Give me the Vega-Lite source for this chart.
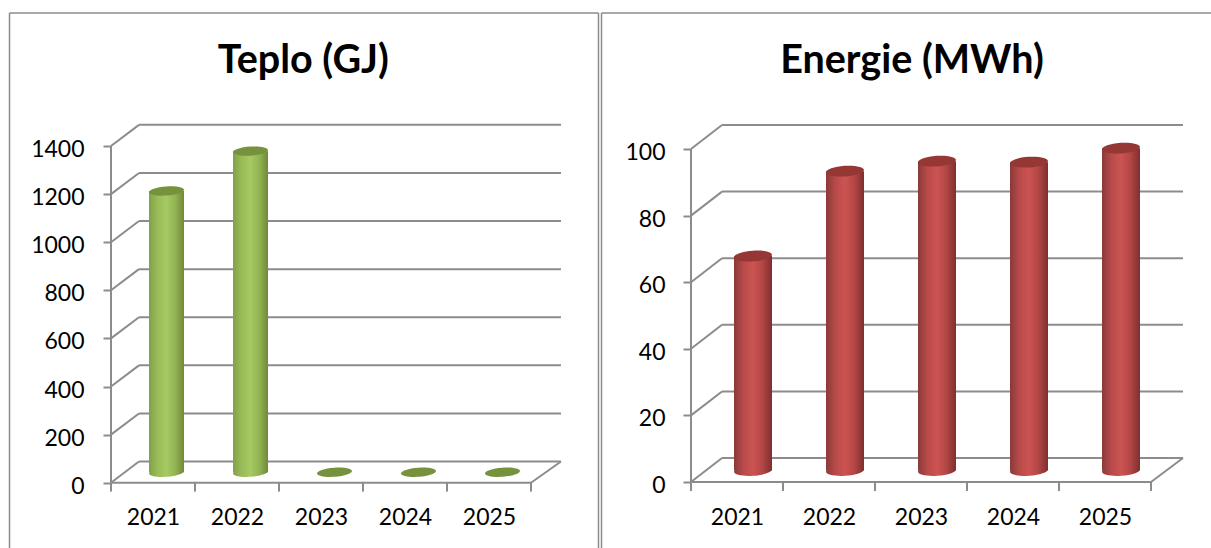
{"$schema":"https://vega.github.io/schema/vega-lite/v6.json","padding":{"left":8.5,"top":12,"right":0,"bottom":0},"spacing":1,"background":"white","config":{"view":{"stroke":null},"font":"Lato"},"datasets":{"heat":[{"year":2021,"value":1169},{"year":2022,"value":1335},{"year":2023,"value":0},{"year":2024,"value":0},{"year":2025,"value":0}],"power":[{"year":2021,"value":64.4},{"year":2022,"value":89.9},{"year":2023,"value":92.9},{"year":2024,"value":92.6},{"year":2025,"value":96.8}]},"hconcat":[{"width":589,"height":535,"layer":[{"data":{"values":[{"x":2019.2917,"x2":2026.3036,"y":1953,"y2":1953},{"x":2019.2917,"x2":2019.2917,"y":1953,"y2":-271.5},{"x":2026.3036,"x2":2026.3036,"y":1953,"y2":-271.5}]},"mark":{"type":"rule","color":"#8c8c8c","strokeWidth":1.5},"encoding":{"x":{"field":"x","type":"quantitative","scale":{"domain":[2019.2917,2026.3036],"nice":false,"zero":false,"padding":0},"axis":{"values":[2021,2022,2023,2024,2025],"format":"d","title":null,"grid":false,"domain":false,"ticks":false,"tickSize":0,"labelPadding":0,"labelBaseline":"alphabetic","labelFont":"Lato","labelFontSize":23,"labelColor":"black","offset":-24}},"x2":{"field":"x2"},"y":{"field":"y","type":"quantitative","scale":{"domain":[-271.5,1953],"nice":false,"zero":false,"padding":0},"axis":{"values":[0,200,400,600,800,1000,1200,1400],"format":"d","title":null,"grid":false,"domain":false,"tickSize":8,"tickWidth":2,"tickColor":"#8c8c8c","labelPadding":19,"labelFont":"Lato","labelFontSize":23,"labelColor":"black","labelOffset":3.5,"offset":-101.5}},"y2":{"field":"y2"}}},{"data":{"values":[{"label":"Teplo (GJ)","x":2022.79,"y":1703.6}]},"mark":{"type":"text","font":"Lato","fontSize":39.5,"fontWeight":700,"color":"black","align":"center","baseline":"alphabetic"},"encoding":{"text":{"field":"label"},"x":{"field":"x","type":"quantitative"},"y":{"field":"y","type":"quantitative"}}},{"data":{"values":[{"x":2020.833,"x2":2025.857,"y":88,"y2":88},{"x":2020.833,"x2":2025.857,"y":288,"y2":288},{"x":2020.833,"x2":2025.857,"y":488,"y2":488},{"x":2020.833,"x2":2025.857,"y":688,"y2":688},{"x":2020.833,"x2":2025.857,"y":888,"y2":888},{"x":2020.833,"x2":2025.857,"y":1088,"y2":1088},{"x":2020.833,"x2":2025.857,"y":1288,"y2":1288},{"x":2020.833,"x2":2025.857,"y":1488,"y2":1488},{"x":2020.5,"x2":2020.833,"y":0,"y2":88},{"x":2020.5,"x2":2020.833,"y":200,"y2":288},{"x":2020.5,"x2":2020.833,"y":400,"y2":488},{"x":2020.5,"x2":2020.833,"y":600,"y2":688},{"x":2020.5,"x2":2020.833,"y":800,"y2":888},{"x":2020.5,"x2":2020.833,"y":1000,"y2":1088},{"x":2020.5,"x2":2020.833,"y":1200,"y2":1288},{"x":2020.5,"x2":2020.833,"y":1400,"y2":1488},{"x":2020.5,"x2":2020.5,"y":0,"y2":1400},{"x":2020.5,"x2":2025.5,"y":0,"y2":0},{"x":2025.5,"x2":2025.857,"y":0,"y2":88},{"x":2020.5,"x2":2020.5,"y":0,"y2":-37},{"x":2021.5,"x2":2021.5,"y":0,"y2":-37},{"x":2022.5,"x2":2022.5,"y":0,"y2":-37},{"x":2023.5,"x2":2023.5,"y":0,"y2":-37},{"x":2024.5,"x2":2024.5,"y":0,"y2":-37},{"x":2025.5,"x2":2025.5,"y":0,"y2":-37}]},"mark":{"type":"rule","color":"#8c8c8c","strokeWidth":2},"encoding":{"x":{"field":"x","type":"quantitative"},"x2":{"field":"x2"},"y":{"field":"y","type":"quantitative"},"y2":{"field":"y2"}}},{"data":{"name":"heat"},"transform":[{"filter":"datum.value > 0"}],"mark":{"type":"point","filled":true,"opacity":1,"size":1225,"xOffset":13.5,"yOffset":-10.5,"shape":"M-0.998 0.07A1 0.26 -4 1 1 0.998 -0.07A1 0.26 -4 1 1 -0.998 0.07Z","fill":{"gradient":"linear","x1":0,"x2":1,"y1":0,"y2":0,"stops":[{"offset":0,"color":"#82a04a"},{"offset":0.25,"color":"#9abc58"},{"offset":0.5,"color":"#a6c963"},{"offset":0.75,"color":"#93b353"},{"offset":1,"color":"#6f8a38"}]}},"encoding":{"x":{"field":"year","type":"quantitative"},"y":{"datum":0,"type":"quantitative"}}},{"data":{"name":"heat"},"mark":{"type":"bar","size":35,"xOffset":13.5,"yOffset":-10.5,"y2Offset":-10.5,"fill":{"gradient":"linear","x1":0,"x2":1,"y1":0,"y2":0,"stops":[{"offset":0,"color":"#82a04a"},{"offset":0.25,"color":"#9abc58"},{"offset":0.5,"color":"#a6c963"},{"offset":0.75,"color":"#93b353"},{"offset":1,"color":"#6f8a38"}]}},"encoding":{"x":{"field":"year","type":"quantitative"},"y":{"field":"value","type":"quantitative"},"y2":{"datum":0}}},{"data":{"name":"heat"},"mark":{"type":"point","filled":true,"opacity":1,"size":1225,"xOffset":13.5,"yOffset":-10.5,"fill":"#76923c","shape":"M-0.998 0.07A1 0.26 -4 1 1 0.998 -0.07A1 0.26 -4 1 1 -0.998 0.07Z"},"encoding":{"x":{"field":"year","type":"quantitative"},"y":{"field":"value","type":"quantitative"}}}]},{"width":609.5,"height":535,"layer":[{"data":{"values":[{"x":2019.5272,"x2":2026.1522,"y":140.84,"y2":140.84},{"x":2019.5272,"x2":2019.5272,"y":140.84,"y2":-19.82}]},"mark":{"type":"rule","color":"#8c8c8c","strokeWidth":1.5},"encoding":{"x":{"field":"x","type":"quantitative","scale":{"domain":[2019.5272,2026.1522],"nice":false,"zero":false,"padding":0},"axis":{"values":[2021,2022,2023,2024,2025],"format":"d","title":null,"grid":false,"domain":false,"ticks":false,"tickSize":0,"labelPadding":0,"labelBaseline":"alphabetic","labelFont":"Lato","labelFontSize":23,"labelColor":"black","offset":-24}},"x2":{"field":"x2"},"y":{"field":"y","type":"quantitative","scale":{"domain":[-19.82,140.84],"nice":false,"zero":false,"padding":0},"axis":{"values":[0,20,40,60,80,100],"format":"d","title":null,"grid":false,"domain":false,"tickSize":8,"tickWidth":2,"tickColor":"#8c8c8c","labelPadding":18,"labelFont":"Lato","labelFontSize":23,"labelColor":"black","labelOffset":3.5,"offset":-89.5}},"y2":{"field":"y2"}}},{"data":{"values":[{"label":"Energie (MWh)","x":2022.902,"y":122.8}]},"mark":{"type":"text","font":"Lato","fontSize":39.5,"fontWeight":700,"color":"black","align":"center","baseline":"alphabetic"},"encoding":{"text":{"field":"label"},"x":{"field":"x","type":"quantitative"},"y":{"field":"y","type":"quantitative"}}},{"data":{"values":[{"x":2020.837,"x2":2025.848,"y":7.2,"y2":7.2},{"x":2020.837,"x2":2025.848,"y":27.2,"y2":27.2},{"x":2020.837,"x2":2025.848,"y":47.2,"y2":47.2},{"x":2020.837,"x2":2025.848,"y":67.2,"y2":67.2},{"x":2020.837,"x2":2025.848,"y":87.2,"y2":87.2},{"x":2020.837,"x2":2025.848,"y":107.2,"y2":107.2},{"x":2020.5,"x2":2020.837,"y":0,"y2":7.2},{"x":2020.5,"x2":2020.837,"y":20,"y2":27.2},{"x":2020.5,"x2":2020.837,"y":40,"y2":47.2},{"x":2020.5,"x2":2020.837,"y":60,"y2":67.2},{"x":2020.5,"x2":2020.837,"y":80,"y2":87.2},{"x":2020.5,"x2":2020.837,"y":100,"y2":107.2},{"x":2020.5,"x2":2020.5,"y":0,"y2":100},{"x":2020.5,"x2":2025.5,"y":0,"y2":0},{"x":2025.5,"x2":2025.848,"y":0,"y2":7.2},{"x":2020.5,"x2":2020.5,"y":0,"y2":-2.7},{"x":2021.5,"x2":2021.5,"y":0,"y2":-2.7},{"x":2022.5,"x2":2022.5,"y":0,"y2":-2.7},{"x":2023.5,"x2":2023.5,"y":0,"y2":-2.7},{"x":2024.5,"x2":2024.5,"y":0,"y2":-2.7},{"x":2025.5,"x2":2025.5,"y":0,"y2":-2.7}]},"mark":{"type":"rule","color":"#8c8c8c","strokeWidth":2},"encoding":{"x":{"field":"x","type":"quantitative"},"x2":{"field":"x2"},"y":{"field":"y","type":"quantitative"},"y2":{"field":"y2"}}},{"data":{"name":"power"},"mark":{"type":"point","filled":true,"opacity":1,"size":1444,"xOffset":16,"yOffset":-11.5,"shape":"M-0.998 0.07A1 0.28 -4 1 1 0.998 -0.07A1 0.28 -4 1 1 -0.998 0.07Z","fill":{"gradient":"linear","x1":0,"x2":1,"y1":0,"y2":0,"stops":[{"offset":0,"color":"#8a3a39"},{"offset":0.25,"color":"#b84a49"},{"offset":0.5,"color":"#cc5452"},{"offset":0.75,"color":"#b24644"},{"offset":1,"color":"#7e2f2e"}]}},"encoding":{"x":{"field":"year","type":"quantitative"},"y":{"datum":0,"type":"quantitative"}}},{"data":{"name":"power"},"mark":{"type":"bar","size":38,"xOffset":16,"yOffset":-11.5,"y2Offset":-11.5,"fill":{"gradient":"linear","x1":0,"x2":1,"y1":0,"y2":0,"stops":[{"offset":0,"color":"#8a3a39"},{"offset":0.25,"color":"#b84a49"},{"offset":0.5,"color":"#cc5452"},{"offset":0.75,"color":"#b24644"},{"offset":1,"color":"#7e2f2e"}]}},"encoding":{"x":{"field":"year","type":"quantitative"},"y":{"field":"value","type":"quantitative"},"y2":{"datum":0}}},{"data":{"name":"power"},"mark":{"type":"point","filled":true,"opacity":1,"size":1444,"xOffset":16,"yOffset":-11.5,"fill":"#953735","shape":"M-0.998 0.07A1 0.28 -4 1 1 0.998 -0.07A1 0.28 -4 1 1 -0.998 0.07Z"},"encoding":{"x":{"field":"year","type":"quantitative"},"y":{"field":"value","type":"quantitative"}}}]}]}
